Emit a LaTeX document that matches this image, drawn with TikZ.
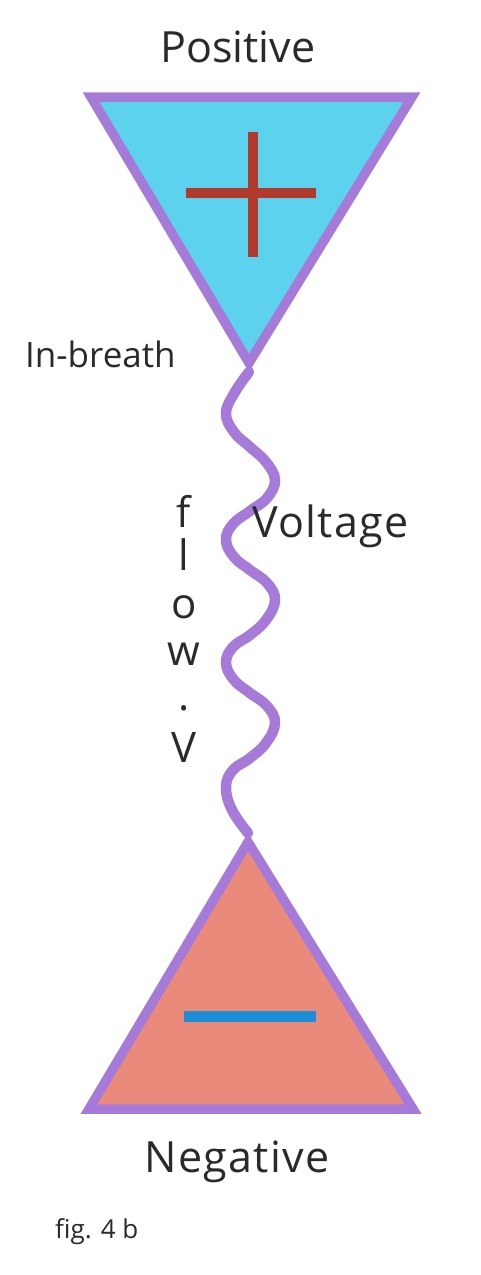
\documentclass[tikz,border=0pt]{standalone}
\usepackage{fontspec}
\setmainfont{Open Sans}
\definecolor{edge}{HTML}{A67AD8}
\definecolor{cyanfill}{HTML}{5CD2EE}
\definecolor{salmon}{HTML}{E98A7A}
\definecolor{plusred}{HTML}{B23A2C}
\definecolor{minusblue}{HTML}{1C8FD8}
\definecolor{ink}{HTML}{2A2A2A}
\tikzset{
  tri/.style={draw=edge, line width=9.5pt, line join=miter},
  wave/.style={draw=edge, line width=10.5pt, line cap=round},
  biglabel/.style={anchor=base, text=ink, inner sep=0pt, font=\fontsize{43}{43}\selectfont},
  widelabel/.style={biglabel, font=\fontsize{43}{43}\selectfont\addfontfeature{LetterSpace=3}},
  midlabel/.style={anchor=base west, text=ink, inner sep=0pt, font=\fontsize{35}{35}\selectfont},
  flowletter/.style={anchor=base, text=ink, inner sep=0pt, font=\fontsize{42}{42}\selectfont},
  smalllabel/.style={anchor=base west, text=ink, inner sep=0pt, font=\fontsize{26}{26}\selectfont}
}
\begin{document}
\begin{tikzpicture}[x=1pt,y=-1pt]
\useasboundingbox (0,0) rectangle (480,1275);
% wave connector
\coordinate (wtop) at (249,372);
\coordinate (wbot) at (248,833);
\draw[wave] plot[smooth, tension=0.7] coordinates {(249,372) (235,392) (226,413) (234,432) (250,447) (266,462) (275,480) (267,498) (250,511) (233,524) (226,540) (234,557) (250,570) (267,583) (275,600) (266,620) (250,635) (233,647) (226,663) (234,680) (250,693) (267,706) (275,723) (266,743) (250,758) (233,770) (226,787) (232,810) (248,833)};
% top triangle
\draw[tri, fill=cyanfill] (91,97) -- (412,97) -- (249,363) -- cycle;
% plus
\draw[plusred, line width=10pt] (186,193) -- (316,193);
\draw[plusred, line width=10pt] (253,132) -- (253,257);
% bottom triangle
\draw[tri, fill=salmon] (248,842) -- (413,1109) -- (89,1109) -- cycle;
% minus
\draw[minusblue, line width=11pt] (184,1016) -- (316,1016);
% labels
\node[biglabel] (pos) at (238,62) {Positive};
\node[widelabel] (neg) at (237,1172) {Negative};
\node[midlabel] (inb) at (25,367) {In-breath};
\node[widelabel, anchor=base west] (volt) at (252,537) {Voltage};
\node[flowletter] (f1) at (184,527) {f};
\node[flowletter] (f2) at (184,570) {l};
\node[flowletter] (f3) at (184,618) {o};
\node[flowletter] (f4) at (184,665) {w};
\node[flowletter] (f5) at (184,710) {.};
\node[flowletter] (f6) at (184,762) {V};
\node[smalllabel] (fig) at (55,1238) {fig. 4 b};
\end{tikzpicture}
\end{document}
